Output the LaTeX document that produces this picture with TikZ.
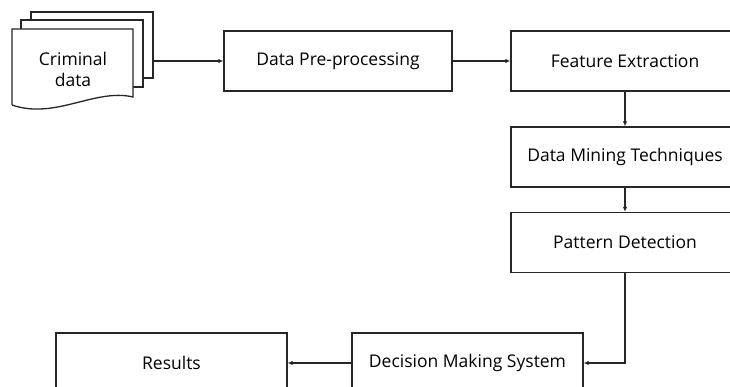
\documentclass[tikz,border=0pt]{standalone}
\usepackage{fontspec}
\setmainfont{Open Sans}
\usetikzlibrary{arrows.meta}
\begin{document}
\begin{tikzpicture}[x=1pt,y=-1pt,
  box/.style={draw=black!85,line width=1.3pt,fill=white,minimum width=228pt,minimum height=60pt,inner sep=0pt,font=\fontsize{17.5}{21}\selectfont},
  sheet/.style={draw=black!85,line width=1.3pt,fill=white,inner sep=0pt},
  arr/.style={draw=black!85,line width=1.3pt,-{Latex[length=5pt,width=4.5pt]}}]
\useasboundingbox (0,0) rectangle (730,387);
\clip (0,0) rectangle (730,387);
\node[sheet,minimum width=122pt,minimum height=66pt] (back) at (92,45) {};
\node[sheet,minimum width=122pt,minimum height=67pt] (middle) at (82,53.5) {};
\draw[draw=black!85,line width=1.3pt,fill=white] (12,105) -- (12,29) -- (133,29) -- (133,97) .. controls (95,88) and (55,120) .. (12,105);
\node[font=\fontsize{17.5}{21}\selectfont,align=center] (crim) at (73,69) {Criminal\\data};
\node[box] (pre) at (338,61) {Data Pre-processing};
\node[box] (fe) at (625,61) {Feature Extraction};
\node[box] (dm) at (625,157) {Data Mining Techniques};
\node[box] (pd) at (625,242.5) {Pattern Detection};
\node[box,minimum width=231pt] (dec) at (467.5,363) {Decision Making System};
\node[box,minimum width=231pt] (res) at (171.5,363) {Results};
\draw[arr] (back.east |- pre.west) -- (pre.west);
\draw[arr] (pre) -- (fe);
\draw[arr] (fe) -- (dm);
\draw[arr] (dm) -- (pd);
\draw[arr] (pd.south) |- (dec.east);
\draw[arr] (dec) -- (res);
\end{tikzpicture}
\end{document}
